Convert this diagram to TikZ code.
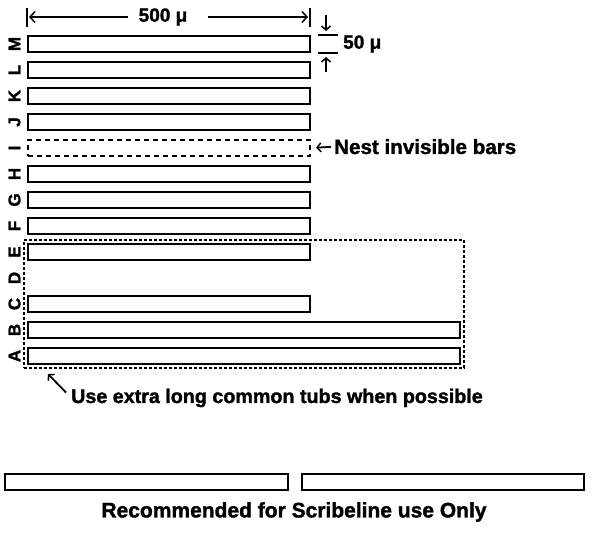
\documentclass[tikz,border=0pt]{standalone}
\usepackage{fontspec}
\setmainfont{Liberation Sans}[BoldFeatures={FakeBold=1.5}]
\usetikzlibrary{positioning,arrows.meta}
\tikzset{
	bar/.style={draw, line width=2pt, inner sep=0pt, minimum width=282, minimum height=16},
	longbar/.style={bar, minimum width=432},
	hidebar/.style={bar, dash pattern=on 5pt off 4pt},
	tubbox/.style={draw, line width=2pt, inner sep=0pt, dash pattern=on 3pt off 2pt, minimum width=440, minimum height=128},
	rowlbl/.style={font=\bfseries\fontsize{17}{17}\selectfont, rotate=90, inner sep=0pt},
	note/.style={font=\bfseries\fontsize{20}{20}\selectfont, inner sep=0pt},
	dimlbl/.style={font=\bfseries\fontsize{19}{19}\selectfont, inner sep=0pt},
	dimarrow/.style={-{Straight Barb[length=5pt, width=11pt, line width=1.5pt]}, line width=2.2pt},
	smallarrow/.style={-{Straight Barb[length=4pt, width=9pt, line width=1.5pt]}, line width=1.8pt}
}
\begin{document}
\begin{tikzpicture}[x=1pt, y=-1pt]
	\useasboundingbox (0,0) rectangle (592,534);
	\node[bar] (barM) at (169,44) {};
	\node[bar] (barL) at (169,70) {};
	\node[bar] (barK) at (169,96) {};
	\node[bar] (barJ) at (169,122) {};
	\node[hidebar] (barI) at (169,148) {};
	\node[bar] (barH) at (169,174) {};
	\node[bar] (barG) at (169,200) {};
	\node[bar] (barF) at (169,226) {};
	\node[bar] (barE) at (169,252) {};
	\node[bar] (barC) at (169,304) {};
	\node[longbar] (barB) at (244,330) {};
	\node[longbar] (barA) at (244,356) {};
	\node[tubbox] (tubs) at (244,304) {};
	\node[rowlbl] (lblM) at (14.5,44) {M};
	\node[rowlbl] (lblL) at (14.5,70) {L};
	\node[rowlbl] (lblK) at (14.5,96) {K};
	\node[rowlbl] (lblJ) at (14.5,122) {J};
	\node[rowlbl] (lblI) at (14.5,148) {I};
	\node[rowlbl] (lblH) at (14.5,174) {H};
	\node[rowlbl] (lblG) at (14.5,200) {G};
	\node[rowlbl] (lblF) at (14.5,226) {F};
	\node[rowlbl] (lblE) at (14.5,252) {E};
	\node[rowlbl] (lblD) at (14.5,278) {D};
	\node[rowlbl] (lblC) at (14.5,304) {C};
	\node[rowlbl] (lblB) at (14.5,330) {B};
	\node[rowlbl] (lblA) at (14.5,356) {A};
	\draw[line width=2pt] (27,8) -- (27,27);
	\draw[line width=2pt] (310,8) -- (310,27);
	\coordinate (wl) at (29,17);
	\coordinate (wr) at (308,17);
	\node[dimlbl] (w500) at (163,17) {500 μ};
	\draw[dimarrow, shorten <=10pt] (w500.west) -- (wl);
	\draw[dimarrow, shorten <=20pt] (w500.east) -- (wr);
	\draw[line width=1.5pt] (318,35) -- (338,35);
	\draw[line width=1.5pt] (318,53) -- (338,53);
	\coordinate (htop) at (326,15);
	\coordinate (hbot) at (326,72);
	\node[dimlbl, anchor=west] (h50) at (343,44) {50 μ};
	\draw[smallarrow] (htop) -- (326,31);
	\draw[smallarrow] (hbot) -- (326,57);
	\node[note, font=\bfseries\fontsize{20.6}{20.6}\selectfont, anchor=base west] (nest) at (334,154) {Nest invisible bars};
	\draw[smallarrow, shorten <=3pt, shorten >=5pt] (nest.west) -- (barI.east);
	\coordinate (usetip) at (48,374);
	\node[note, font=\bfseries\fontsize{19.7}{19.7}\selectfont, anchor=base west] (usenote) at (71,403) {Use extra long common tubs when possible};
	\draw[smallarrow] ([shift={(-5,4)}]usenote.north west) -- (usetip);
	\node[bar, minimum width=283] (scribeL) at (146.5,482.5) {};
	\node[bar] (scribeR) at (443,482.5) {};
	\node[note, font=\bfseries\fontsize{21}{21}\selectfont] (scribenote) at (294,512) {Recommended for Scribeline use Only};
\end{tikzpicture}
\end{document}
